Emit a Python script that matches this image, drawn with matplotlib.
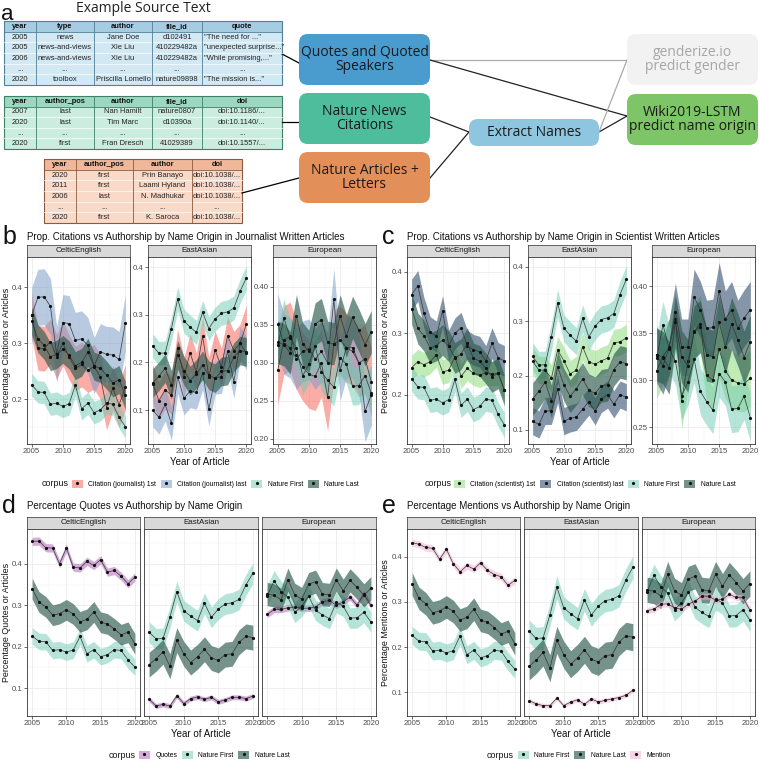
import numpy as np
import matplotlib
matplotlib.use('Agg')
import matplotlib.pyplot as plt
from matplotlib.patches import Rectangle, FancyBboxPatch, Patch
from matplotlib.lines import Line2D
from matplotlib.ticker import MultipleLocator, FormatStrFormatter

plt.rcParams['font.family'] = ['Liberation Sans', 'DejaVu Sans']

# ---- data ----
years = list(range(2005, 2021))
origins = ['CelticEnglish', 'EastAsian', 'European']

nature_first = {
    'CelticEnglish': [0.226, 0.213, 0.212, 0.191, 0.193, 0.187, 0.192, 0.225, 0.183, 0.193, 0.176, 0.181, 0.193, 0.191, 0.168, 0.151],
    'EastAsian': [0.235, 0.219, 0.220, 0.271, 0.333, 0.287, 0.274, 0.263, 0.305, 0.271, 0.291, 0.303, 0.306, 0.314, 0.349, 0.377],
    'European': [0.323, 0.359, 0.333, 0.320, 0.283, 0.298, 0.322, 0.288, 0.277, 0.268, 0.307, 0.298, 0.269, 0.270, 0.283, 0.260],
}
nature_last = {
    'CelticEnglish': [0.340, 0.308, 0.296, 0.276, 0.280, 0.289, 0.279, 0.260, 0.266, 0.284, 0.259, 0.255, 0.243, 0.229, 0.235, 0.207],
    'EastAsian': [0.157, 0.171, 0.188, 0.153, 0.216, 0.183, 0.162, 0.176, 0.194, 0.173, 0.167, 0.181, 0.183, 0.211, 0.225, 0.222],
    'European': [0.327, 0.324, 0.313, 0.362, 0.325, 0.315, 0.351, 0.357, 0.327, 0.325, 0.362, 0.335, 0.360, 0.343, 0.324, 0.341],
}
cit_journ_first = {
    'CelticEnglish': [0.350, 0.292, 0.290, 0.303, 0.276, 0.300, 0.275, 0.255, 0.262, 0.252, 0.258, 0.240, 0.185, 0.220, 0.190, 0.221],
    'EastAsian': [0.155, 0.120, 0.143, 0.131, 0.230, 0.170, 0.220, 0.180, 0.255, 0.170, 0.226, 0.190, 0.256, 0.225, 0.240, 0.280],
    'European': [0.290, 0.330, 0.335, 0.310, 0.295, 0.285, 0.282, 0.300, 0.255, 0.325, 0.330, 0.320, 0.315, 0.300, 0.305, 0.275],
}
cit_journ_last = {
    'CelticEnglish': [0.350, 0.382, 0.383, 0.366, 0.280, 0.337, 0.335, 0.305, 0.308, 0.296, 0.260, 0.285, 0.280, 0.279, 0.271, 0.336],
    'EastAsian': [0.100, 0.085, 0.112, 0.072, 0.170, 0.125, 0.140, 0.137, 0.178, 0.102, 0.168, 0.170, 0.223, 0.160, 0.240, 0.220],
    'European': [0.351, 0.325, 0.320, 0.305, 0.315, 0.318, 0.305, 0.315, 0.300, 0.384, 0.290, 0.320, 0.320, 0.300, 0.236, 0.258],
}
cit_sci_first = {
    'CelticEnglish': [0.244, 0.254, 0.249, 0.254, 0.265, 0.237, 0.240, 0.262, 0.230, 0.243, 0.235, 0.232, 0.236, 0.234, 0.235, 0.208],
    'EastAsian': [0.226, 0.210, 0.210, 0.195, 0.247, 0.227, 0.203, 0.210, 0.253, 0.225, 0.221, 0.227, 0.232, 0.260, 0.262, 0.269],
    'European': [0.310, 0.325, 0.335, 0.365, 0.278, 0.320, 0.352, 0.360, 0.305, 0.300, 0.333, 0.310, 0.300, 0.297, 0.296, 0.302],
}
cit_sci_last = {
    'CelticEnglish': [0.363, 0.377, 0.333, 0.302, 0.295, 0.336, 0.280, 0.300, 0.309, 0.280, 0.273, 0.270, 0.255, 0.284, 0.260, 0.255],
    'EastAsian': [0.116, 0.110, 0.135, 0.135, 0.175, 0.116, 0.121, 0.124, 0.138, 0.152, 0.134, 0.157, 0.165, 0.147, 0.165, 0.160],
    'European': [0.327, 0.315, 0.335, 0.373, 0.335, 0.335, 0.388, 0.375, 0.355, 0.356, 0.395, 0.365, 0.375, 0.355, 0.366, 0.375],
}
quotes = {
    'CelticEnglish': [0.454, 0.455, 0.439, 0.438, 0.400, 0.438, 0.392, 0.390, 0.406, 0.396, 0.410, 0.380, 0.384, 0.370, 0.352, 0.368],
    'EastAsian': [0.073, 0.057, 0.061, 0.057, 0.082, 0.063, 0.075, 0.079, 0.073, 0.078, 0.067, 0.072, 0.078, 0.078, 0.075, 0.081],
    'European': [0.278, 0.290, 0.290, 0.294, 0.296, 0.293, 0.293, 0.296, 0.308, 0.312, 0.300, 0.308, 0.320, 0.300, 0.328, 0.300],
}
mentions = {
    'CelticEnglish': [0.432, 0.428, 0.421, 0.419, 0.395, 0.417, 0.385, 0.367, 0.381, 0.373, 0.387, 0.370, 0.361, 0.356, 0.337, 0.348],
    'EastAsian': [0.081, 0.074, 0.070, 0.070, 0.087, 0.070, 0.078, 0.083, 0.073, 0.085, 0.078, 0.082, 0.085, 0.088, 0.093, 0.104],
    'European': [0.281, 0.284, 0.295, 0.296, 0.287, 0.284, 0.295, 0.302, 0.313, 0.313, 0.304, 0.306, 0.317, 0.310, 0.310, 0.282],
}
# half width of the confidence ribbons
hw_nature_first = {'CelticEnglish': 0.020, 'EastAsian': 0.025, 'European': 0.025}
hw_nature_last = {'CelticEnglish': 0.025, 'EastAsian': 0.030, 'European': 0.028}
hw_journ_first = {'CelticEnglish': 0.040, 'EastAsian': 0.040, 'European': 0.045}
hw_journ_last = {'CelticEnglish': 0.050, 'EastAsian': 0.035, 'European': 0.040}
hw_sci_first = {'CelticEnglish': 0.020, 'EastAsian': 0.025, 'European': 0.030}
hw_sci_last = {'CelticEnglish': 0.025, 'EastAsian': 0.025, 'European': 0.030}
hw_quotes = {'CelticEnglish': 0.010, 'EastAsian': 0.006, 'European': 0.008}
hw_mentions = {'CelticEnglish': 0.008, 'EastAsian': 0.005, 'European': 0.007}

table1_header = ['year', 'type', 'author', 'file_id', 'quote']
table1_rows = [
    ['2005', 'news', 'Jane Doe', 'd102491', '"The need for ..."'],
    ['2005', 'news-and-views', 'Xie Liu', '410229482a', '"unexpected surprise..."'],
    ['2006', 'news-and-views', 'Xie Liu', '410229482a', '"While promising,..."'],
    ['...', '...', '...', '...', '...'],
    ['2020', 'toolbox', 'Priscilla Lomello', 'nature09898', '"The mission is..."'],
]
table2_header = ['year', 'author_pos', 'author', 'file_id', 'doi']
table2_rows = [
    ['2007', 'last', 'Nan Hamilt', 'nature0807', 'doi:10.1186/...'],
    ['2020', 'last', 'Tim Marc', 'd10390a', 'doi:10.1140/...'],
    ['...', '...', '...', '...', '...'],
    ['2020', 'first', 'Fran Dresch', '41029389', 'doi:10.1557/...'],
]
table3_header = ['year', 'author_pos', 'author', 'doi']
table3_rows = [
    ['2020', 'first', 'Prin Banayo', 'doi:10.1038/...'],
    ['2011', 'first', 'Laami Hyland', 'doi:10.1038/...'],
    ['2006', 'last', 'N. Madhukar', 'doi:10.1038/...'],
    ['...', '...', '...', '...'],
    ['2020', 'first', 'K. Saroca', 'doi:10.1038/...'],
]

# colours (fill, alpha)
C_JF = ('#f8766d', 0.6)
C_JL = ('#7d9fc8', 0.55)
C_NF = ('#6fcbb3', 0.5)
C_NL = ('#2b5a4c', 0.65)
C_SF = ('#8fdc7c', 0.55)
C_SL = ('#34506f', 0.6)
C_Q = ('#b36bbb', 0.55)
C_M = ('#f3a9d2', 0.5)

W, H = 759, 763
fig = plt.figure(figsize=(W / 100, H / 100), dpi=100)

# overlay in pixel coordinates for panel a
ov = fig.add_axes([0, 0, 1, 1])
ov.set_xlim(0, W)
ov.set_ylim(H, 0)
ov.axis('off')


def draw_table(xe, y0, rh, header, rows, head_fc, body_fc, line_c, left_last=False):
    n = len(rows) + 1
    x0, x1 = xe[0], xe[-1]
    ov.add_patch(Rectangle((x0, y0), x1 - x0, rh, facecolor=head_fc, edgecolor='none'))
    ov.add_patch(Rectangle((x0, y0 + rh), x1 - x0, rh * (n - 1), facecolor=body_fc, edgecolor='none'))
    for i in range(2, n):
        ov.plot([x0, x1], [y0 + i * rh] * 2, color='white', lw=0.6, alpha=0.8)
    ov.plot([x0, x1], [y0 + rh] * 2, color=line_c, lw=0.6)
    for x in xe[1:-1]:
        ov.plot([x, x], [y0, y0 + n * rh], color=line_c, lw=0.6)
    ov.add_patch(Rectangle((x0, y0), x1 - x0, n * rh, facecolor='none', edgecolor=line_c, lw=0.8))
    for j, h in enumerate(header):
        ov.text((xe[j] + xe[j + 1]) / 2, y0 + rh / 2, h, ha='center', va='center',
                fontsize=5.4, fontweight='bold', color='#111111')
    for i, row in enumerate(rows):
        yc = y0 + (i + 1.5) * rh
        for j, v in enumerate(row):
            if left_last and j == len(row) - 1 and v != '...':
                ov.text(xe[j] + 2, yc, v, ha='left', va='center', fontsize=5.4, color='#222222')
            else:
                ov.text((xe[j] + xe[j + 1]) / 2, yc, v, ha='center', va='center', fontsize=5.4, color='#222222')


ov.text(143, 9, 'Example Source Text', ha='center', va='center', fontsize=10, color='#222222',
        family=['Open Sans', 'DejaVu Sans'])
ov.text(1, 14, 'a', ha='left', va='center', fontsize=16, color='#111111')

draw_table([4, 36, 94, 152, 202, 282], 21, 10.67, table1_header, table1_rows,
           '#a5cce0', '#d2e8f3', '#4f7f99', left_last=True)
draw_table([4, 36, 94, 152, 202, 282], 96, 10.6, table2_header, table2_rows,
           '#9cd8c0', '#cbede0', '#3f7f6a')
draw_table([44, 76, 133, 192, 242], 159, 10.67, table3_header, table3_rows,
           '#f0b89a', '#f9dac9', '#8a5a40')

# connectors
for (xa, ya, xb, yb, col) in [(282, 54, 299, 63, 'k'), (282, 122, 299, 122, 'k'), (242, 193, 299, 178, 'k'),
                              (430, 60, 627, 60, '#aaaaaa'), (430, 60, 627, 116, '#222222'),
                              (430, 117, 469, 132, '#222222'), (430, 178, 469, 132, '#222222'),
                              (599, 132, 627, 116, '#222222'), (599, 132, 627, 60, '#aaaaaa')]:
    ov.plot([xa, xb], [ya, yb], color=col, lw=0.9, zorder=1)

boxes = [
    (299, 34, 430, 85, '#4a9ccf', 'Quotes and Quoted\nSpeakers', '#1a1a1a'),
    (299, 93, 430, 144, '#4dbd9c', 'Nature News\nCitations', '#1a1a1a'),
    (299, 152, 430, 203, '#e38f5a', 'Nature Articles +\nLetters', '#1a1a1a'),
    (469, 119, 599, 146, '#8dc6de', 'Extract Names', '#1a1a1a'),
    (627, 34, 758, 85, '#f2f2f2', 'genderize.io\npredict gender', '#a6a6a6'),
    (627, 94, 758, 145, '#7dc566', 'Wiki2019-LSTM\npredict name origin', '#1a1a1a'),
]
for (x0, y0, x1, y1, fc, txt, tc) in boxes:
    ov.add_patch(FancyBboxPatch((x0, y0), x1 - x0, y1 - y0, boxstyle='round,pad=0,rounding_size=9',
                                facecolor=fc, edgecolor='none', zorder=2))
    ov.text((x0 + x1) / 2, (y0 + y1) / 2, txt, ha='center', va='center', fontsize=10, color=tc,
            linespacing=0.95, zorder=3, family=['Open Sans', 'DejaVu Sans'])


def px_axes(x0, x1, y0, y1):
    return fig.add_axes([x0 / W, 1 - y1 / H, (x1 - x0) / W, (y1 - y0) / H])


def draw_panel(letter, lx, title, tx, ty, facets, strip_top, top, bottom, ylims, yticks, yfmts,
               shared, ylabel, ylab_x, series, key_x, leg_y, corpus_x):
    fig.text(lx / W, 1 - ty / H, letter, ha='left', va='center', fontsize=18, color='#111111')
    fig.text(tx / W, 1 - ty / H, title, ha='left', va='center', fontsize=7.0, color='#111111')
    fig.text(ylab_x / W, 1 - (top + bottom) / 2 / H, ylabel, ha='center', va='center', rotation=90,
             fontsize=6.4, color='#111111')
    for k, (org, (x0, x1)) in enumerate(zip(origins, facets)):
        st = px_axes(x0, x1, strip_top, top)
        st.set_facecolor('#d9d9d9')
        st.set_xticks([])
        st.set_yticks([])
        for s in st.spines.values():
            s.set_color('#333333')
            s.set_linewidth(0.5)
        st.text(0.5, 0.5, org, transform=st.transAxes, ha='center', va='center', fontsize=5.8, color='#1a1a1a')

        ax = px_axes(x0, x1, top, bottom)
        ax.set_xlim(2004.25, 2020.75)
        lo, hi = ylims[0] if shared else ylims[k]
        ax.set_ylim(lo, hi)
        tk = yticks if shared else yticks[k]
        ax.set_yticks(tk)
        step = tk[1] - tk[0]
        ax.yaxis.set_minor_locator(MultipleLocator(step / 2))
        ax.set_xticks([2005, 2010, 2015, 2020])
        ax.xaxis.set_minor_locator(MultipleLocator(2.5))
        ax.yaxis.set_major_formatter(FormatStrFormatter(yfmts if shared else yfmts[k]))
        ax.grid(True, which='major', color='#ebebeb', lw=0.6)
        ax.grid(True, which='minor', color='#f2f2f2', lw=0.35)
        ax.set_axisbelow(True)
        ax.tick_params(axis='both', which='major', labelsize=5.6, labelcolor='#4d4d4d', color='#333333',
                       length=2, width=0.5, pad=1)
        ax.tick_params(which='minor', length=0)
        if shared and k > 0:
            ax.tick_params(axis='y', which='major', labelleft=False, length=0)
        for s in ax.spines.values():
            s.set_color('#333333')
            s.set_linewidth(0.6)
        for (vals, hws, (c, a), lab) in series:
            v = np.array(vals[org])
            ax.fill_between(years, v - hws[org], v + hws[org], color=c, alpha=a, lw=0)
        for (vals, hws, (c, a), lab) in series:
            ax.plot(years, vals[org], color='#333333', lw=0.55, alpha=0.9)
            ax.plot(years, vals[org], 'o', ms=2.3, color='#111111', mec='none')
        if k == 1:
            ax.set_xlabel('Year of Article', fontsize=7, color='#111111', labelpad=1)
    handles = [(Patch(facecolor=c, alpha=a, edgecolor='none'),
                Line2D([], [], marker='o', ls='none', ms=2.3, color='#111111', mec='none'))
               for (_, _, (c, a), _) in series]
    labels = [lab for (_, _, _, lab) in series]
    fig.legend(handles, labels, loc='center left', bbox_to_anchor=(key_x / W, 1 - leg_y / H), ncol=len(series),
               frameon=False, fontsize=4.9, handlelength=1.6, handleheight=1.6, handletextpad=0.8,
               columnspacing=0.7, borderpad=0, borderaxespad=0)
    fig.text(corpus_x / W, 1 - leg_y / H, 'corpus', ha='left', va='center', fontsize=6.4, color='#111111')


draw_panel('b', 2, 'Prop. Citations vs Authorship by Name Origin in Journalist Written Articles', 27, 237,
           [(27, 130), (148, 251), (273, 376)], 245, 257, 444,
           [(0.12, 0.454), (0.029, 0.421), (0.193, 0.4395)],
           [[0.2, 0.3, 0.4], [0.1, 0.2, 0.3, 0.4], [0.20, 0.25, 0.30, 0.35, 0.40]],
           ['%.1f', '%.1f', '%.2f'], False, 'Percentage Citations or Articles', 7,
           [(cit_journ_first, hw_journ_first, C_JF, 'Citation (journalist) 1st'),
            (cit_journ_last, hw_journ_last, C_JL, 'Citation (journalist) last'),
            (nature_first, hw_nature_first, C_NF, 'Nature First'),
            (nature_last, hw_nature_last, C_NL, 'Nature Last')],
           72, 484, 42)

draw_panel('c', 382, 'Prop. Citations vs Authorship by Name Origin in Scientist Written Articles', 407, 237,
           [(407, 509), (528, 631), (652, 755)], 245, 257, 444,
           [(0.12, 0.424), (0.074, 0.418), (0.232, 0.431)],
           [[0.2, 0.3, 0.4], [0.1, 0.2, 0.3, 0.4], [0.25, 0.30, 0.35, 0.40]],
           ['%.1f', '%.1f', '%.2f'], False, 'Percentage Citations or Articles', 386,
           [(cit_sci_first, hw_sci_first, C_SF, 'Citation (scientist) 1st'),
            (cit_sci_last, hw_sci_last, C_SL, 'Citation (scientist) last'),
            (nature_first, hw_nature_first, C_NF, 'Nature First'),
            (nature_last, hw_nature_last, C_NL, 'Nature Last')],
           454, 484, 425)

draw_panel('d', 2, 'Percentage Quotes vs Authorship by Name Origin', 27, 506,
           [(27, 140), (144, 258), (262, 376)], 517, 529, 716,
           [(0.033, 0.484)], [0.1, 0.2, 0.3, 0.4], '%.1f', True, 'Percentage Quotes or Articles', 7,
           [(quotes, hw_quotes, C_Q, 'Quotes'),
            (nature_first, hw_nature_first, C_NF, 'Nature First'),
            (nature_last, hw_nature_last, C_NL, 'Nature Last')],
           139, 755, 109)

draw_panel('e', 382, 'Percentage Mentions vs Authorship by Name Origin', 407, 506,
           [(407, 520), (524, 638), (642, 755)], 517, 529, 716,
           [(0.047, 0.462)], [0.1, 0.2, 0.3, 0.4], '%.1f', True, 'Percentage Mentions or Articles', 386,
           [(nature_first, hw_nature_first, C_NF, 'Nature First'),
            (nature_last, hw_nature_last, C_NL, 'Nature Last'),
            (mentions, hw_mentions, C_M, 'Mention')],
           518, 755, 487)

fig.savefig('out.png', dpi=100)
